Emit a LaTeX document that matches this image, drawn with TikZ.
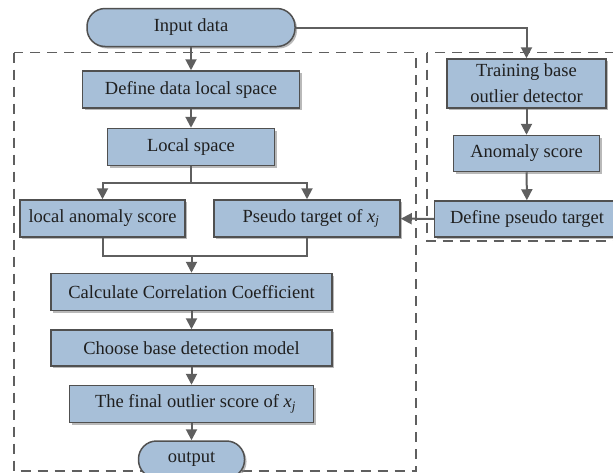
\documentclass[tikz,border=0pt]{standalone}
\usepackage{fontspec}
\setmainfont{Liberation Serif}
\usetikzlibrary{positioning,arrows.meta,shadows}
\definecolor{boxblue}{RGB}{167,191,216}
\definecolor{boxline}{RGB}{80,80,80}
\definecolor{linkgray}{RGB}{95,95,95}
\tikzset{node distance=18pt,
  proc/.style={draw=boxline,line width=1.5pt,fill=boxblue,rectangle,minimum height=37pt,
    inner sep=1pt,align=center,text=black!88,font=\fontsize{18.5}{22}\selectfont,
    drop shadow={shadow xshift=2pt,shadow yshift=-2pt,fill=black!50,opacity=0.55}},
  term/.style={proc,rounded corners=18pt},
  flow/.style={draw=linkgray,line width=2pt,-{Triangle[width=11pt,length=11pt]}},
  link/.style={draw=linkgray,line width=2pt},
  zone/.style={draw=linkgray,line width=1.4pt,dash pattern=on 10pt off 7pt}}
\newcommand{\xj}{\textit{x}\textsubscript{\textit{j}}}

\begin{document}
\begin{tikzpicture}[x=1pt,y=1pt]
	\useasboundingbox (0,0) rectangle (613,-472);

	% dashed regions
	\draw[zone] (14,-52.5) rectangle (416,-471);
	\draw[zone] (427,-52.5) rectangle (630,-241);

	% main column
	\node[term,minimum width=208pt,minimum height=38pt] (input) at (191,-27.5) {Input data};
	\node[proc,minimum width=217pt] (define) [below=23pt of input] {Define data local space};
	\node[proc,minimum width=167pt] (local) [below=19pt of define] {Local space};
	\node[proc,minimum width=165pt] (lanom) [below=33pt of local,xshift=-88.5pt] {local anomaly score};
	\node[proc,minimum width=186pt] (pseudo) [below=33pt of local,xshift=116pt] {\hspace*{8pt}Pseudo target of \xj};
	\node[proc,minimum width=281pt] (calc) [below=35pt of lanom,xshift=89pt] {Calculate Correlation Coefficient};
	\node[proc,minimum width=281pt,minimum height=36pt] (choose) [below=of calc] {Choose base detection model};
	\node[proc,minimum width=244pt] (final) [below=of choose] {\hspace*{8pt}The final outlier score of \xj};
	\node[term,minimum width=106pt] (output) [below=17pt of final] {output};

	% side column
	\node[proc,minimum width=159pt,minimum height=49pt,inner sep=0pt,
	      font=\fontsize{18.5}{26}\selectfont] (train) [right=146pt of define,yshift=6pt] {Training base\\outlier detector};
	\node[proc,minimum width=146pt,minimum height=36pt] (anom) [below=26pt of train] {Anomaly score};
	\node[proc,minimum width=185pt,minimum height=36pt] (defpt) [below=28pt of anom,xshift=0.5pt] {Define pseudo target};

	\path (local.south) ++(0,-17) coordinate (split);
	\path (calc.north) ++(0,17) coordinate (merge);

	\path[flow]
	(input) -- (define);
	\path[flow] (define) -- (local);
	\path[flow] (input.east) -| (train.north);
	\path[flow] (train) -- (anom);
	\path[flow] (anom) -- (defpt);
	\path[flow] (defpt) -- (pseudo);

	\path[link] (local.south) -- (split);
	\path[flow] (split) -| (lanom.north);
	\path[flow] (split) -| (pseudo.north);
	\path[link] (lanom.south) |- (merge) -| (pseudo.south);
	\path[flow] (merge) -- (calc);

	\path[flow] (calc) -- (choose);
	\path[flow] (choose) -- (final);
	\path[flow] (final) -- (output);
\end{tikzpicture}
\end{document}
